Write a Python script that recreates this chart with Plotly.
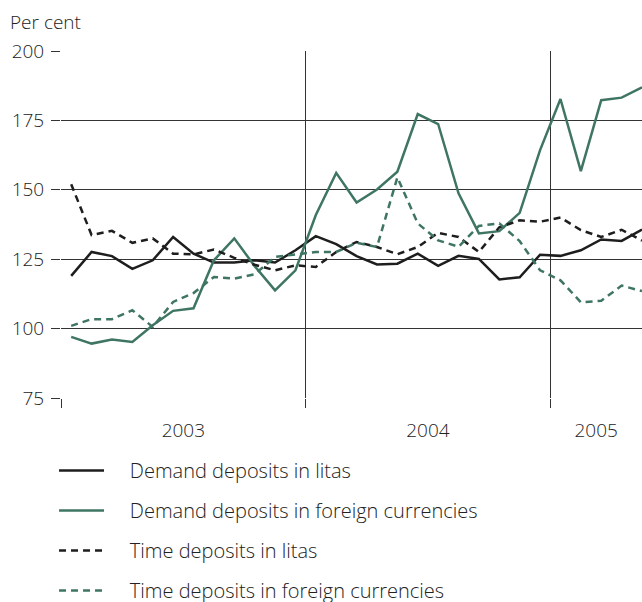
import plotly.graph_objects as go

months = ["Jan 2003", "Feb 2003", "Mar 2003", "Apr 2003", "May 2003", "Jun 2003",
          "Jul 2003", "Aug 2003", "Sep 2003", "Oct 2003", "Nov 2003", "Dec 2003",
          "Jan 2004", "Feb 2004", "Mar 2004", "Apr 2004", "May 2004", "Jun 2004",
          "Jul 2004", "Aug 2004", "Sep 2004", "Oct 2004", "Nov 2004", "Dec 2004",
          "Jan 2005", "Feb 2005", "Mar 2005", "Apr 2005", "May 2005"]
x_idx = list(range(len(months)))

demand_litas = [119.0, 127.6, 126.1, 121.5, 124.6, 133.0, 127.0, 123.8, 123.8, 124.6,
                123.8, 128.2, 133.3, 130.4, 126.1, 123.1, 123.4, 127.0, 122.6, 126.2,
                125.1, 117.7, 118.5, 126.6, 126.2, 128.2, 132.1, 131.6, 135.7]
demand_foreign = [97.0, 94.6, 96.1, 95.2, 101.2, 106.4, 107.3, 124.6, 132.5, 122.5,
                  113.8, 121.0, 140.9, 156.1, 145.4, 150.1, 156.5, 177.3, 173.7, 148.7,
                  134.3, 135.1, 141.7, 164.3, 182.7, 156.7, 182.3, 183.2, 186.9]
time_litas = [152.0, 133.7, 135.2, 130.9, 132.5, 127.0, 126.7, 128.5, 125.5, 123.0,
              121.0, 122.8, 122.2, 127.6, 131.2, 129.4, 126.8, 129.4, 134.5, 133.0,
              127.6, 136.5, 139.0, 138.5, 140.0, 135.5, 133.0, 135.6, 131.7]
time_foreign = [101.0, 103.4, 103.4, 106.6, 100.6, 109.6, 112.8, 118.6, 118.0, 119.6,
                125.8, 126.8, 127.6, 127.6, 130.9, 129.4, 154.5, 137.9, 131.8, 129.5,
                137.0, 137.9, 131.5, 121.0, 117.4, 109.5, 110.0, 115.5, 113.5]

year_labels = ["2003", "2004", "2005"]
year_label_pos = [5.5, 17.5, 25.75]
year_bounds = [-0.5, 11.5, 23.5]
y_ticks = [75, 100, 125, 150, 175, 200]

BLACK = "#1e1e1e"
GREEN = "#3f7563"
FONT = "Open Sans"
TXT = "#222222"
PAD = "\u00a0\u00a0\u00a0\u00a0"

series = [
    ("Demand deposits in litas", demand_litas, BLACK, "solid"),
    ("Demand deposits in foreign currencies", demand_foreign, GREEN, "solid"),
    ("Time deposits in litas", time_litas, BLACK, "7px,5px"),
    ("Time deposits in foreign currencies", time_foreign, GREEN, "7px,5px"),
]

def f(size=19):
    return dict(family=FONT, size=size, color=TXT, weight=300)

fig = go.Figure()
for name, vals, col, dash in series:
    fig.add_trace(go.Scatter(
        x=x_idx, y=vals, name=PAD + name, mode="lines", legendgroup=name,
        customdata=months, hovertemplate="%{customdata}: %{y}<extra></extra>",
        line=dict(color=col, width=2.5, dash=dash),
    ))

fig.update_layout(
    width=642, height=602,
    margin=dict(l=61, r=0, t=51, b=204, autoexpand=False),
    plot_bgcolor="white", paper_bgcolor="white",
    font=f(),
    showlegend=True,
    legend=dict(x=-0.012, xanchor="left", y=-0.153, yanchor="top",
                orientation="v", tracegroupgap=11, itemwidth=45,
                font=f(20), bgcolor="rgba(0,0,0,0)"),
    annotations=[dict(text="Per cent", xref="paper", yref="paper",
                      x=-0.0913, y=1.083, xanchor="left", yanchor="middle",
                      showarrow=False, font=f())],
)

fig.update_xaxes(
    range=[-0.5, 28], tickmode="array", tickvals=year_label_pos, ticktext=year_labels,
    ticks="outside", ticklen=15, tickcolor="rgba(0,0,0,0)", automargin=False,
    showgrid=False, zeroline=False, showline=False,
    tickfont=f(),
    minor=dict(tickmode="array", tickvals=year_bounds, showgrid=True,
               gridcolor="#333333", gridwidth=1, ticks="outside", ticklen=9,
               tickcolor="#333333", tickwidth=1),
)
fig.update_yaxes(
    range=[75, 200], tickmode="array", tickvals=y_ticks, automargin=False,
    ticks="outside", ticklen=9, tickcolor="#333333", tickwidth=1, ticklabelstandoff=3,
    showgrid=True, gridcolor="#333333", gridwidth=1, zeroline=False, showline=False,
    tickfont=f(),
)

fig.write_html(
    "out.html",
    config={"displayModeBar": False},
    post_script="document.body.style.margin='0';document.body.style.overflow='hidden';",
)
